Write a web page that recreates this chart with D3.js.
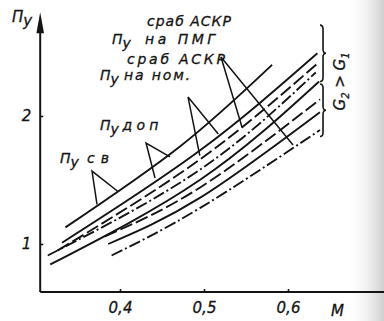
<!DOCTYPE html>
<html>
<head>
<meta charset="utf-8">
<script src="https://cdn.jsdelivr.net/npm/d3@7/dist/d3.min.js"></script>
<style>
  html, body { margin: 0; padding: 0; background: #fff; }
  svg { display: block; }
  text { font-family: "DejaVu Sans", sans-serif; fill: #141414; font-style: italic; stroke: #141414; stroke-width: 0.3; }
</style>
</head>
<body>
<svg id="chart" width="384" height="321"></svg>
<script>
// Overload factor n_y versus Mach number M, two flying weights (G2 > G1)
const M_TICKS = [0.4, 0.5, 0.6];
const NY_TICKS = [1, 2];
const M_TICK_LABELS = ["0,4", "0,5", "0,6"];

// curves: [M, n_y]
const nySv      = [[0.335, 1.13], [0.471, 1.76], [0.581, 2.40]];
const nyG2a     = [[0.331, 1.01], [0.495, 1.73], [0.635, 2.49]];
const nyG2b     = [[0.326, 0.95], [0.495, 1.66], [0.635, 2.41]];
const nyG2c     = [[0.314, 0.91], [0.495, 1.58], [0.633, 2.34]];
const nyG2d     = [[0.317, 0.84], [0.495, 1.50], [0.637, 2.27]];
const nyG1a     = [[0.382, 1.06], [0.495, 1.44], [0.638, 2.13]];
const nyG1b     = [[0.386, 1.00], [0.495, 1.36], [0.638, 2.03]];
const nyG1c     = [[0.390, 0.91], [0.495, 1.28], [0.638, 1.89]];

const curves = [nySv, nyG2a, nyG2b, nyG2c, nyG2d, nyG1a, nyG1b, nyG1c];
const curveDash = ["", "", "13 4", "12 3 2 3", "", "13 4", "", "12 3 2 3"];

// leader lines: [vertex, tipA, tipB] in [M, n_y]
const leaders = [
  [[0.3667, 1.570], [0.3726, 1.31], [0.3976, 1.41]],
  [[0.431, 1.789], [0.4417, 1.516], [0.4595, 1.68]],
  [[0.481, 2.148], [0.495, 1.69], [0.517, 1.86]],
  [[0.5202, 2.461], [0.5452, 1.914], [0.606, 1.773]]
];

// curve labels: [symbol, subscript, words, M of symbol, M of words, n_y baseline, words width px]
const labels = [
  ["", "", "сраб АСКР", 0, 0.4321, 2.70, 84],
  ["П", "у", "на ПМГ", 0.3905, 0.4298, 2.56, 70],
  ["", "", "сраб АСКР", 0, 0.4083, 2.41, 98],
  ["П", "у", "на ном.", 0.3762, 0.4048, 2.28, 66],
  ["П", "у", "доп", 0.3762, 0.4030, 1.89, 36],
  ["П", "у", "св", 0.3286, 0.3607, 1.63, 22]
];

const M0 = 0.305, NY0 = 0.625;      // axes origin
const M_END = 0.7345, NY_END = 2.81; // arrow tips

const svg = d3.select("#chart");
const x = d3.scaleLinear().domain([0.4, 0.6]).range([120, 288]);
const y = d3.scaleLinear().domain([1, 2]).range([244, 116]);

// faint shading toward the right edge
const defs = svg.append("defs");
const grad = defs.append("linearGradient").attr("id", "edge").attr("x1", 0).attr("x2", 1);
grad.append("stop").attr("offset", 0).attr("stop-color", "#fff").attr("stop-opacity", 0);
grad.append("stop").attr("offset", 1).attr("stop-color", "#cfcfcf").attr("stop-opacity", 1);
svg.append("rect").attr("x", 345).attr("y", 0).attr("width", 39).attr("height", 321).attr("fill", "url(#edge)");

const ink = "#141414";

// axis lines with arrowheads
svg.append("line")
  .attr("x1", x(M0)).attr("y1", y(NY0)).attr("x2", x(M0)).attr("y2", y(NY_END) + 12)
  .attr("stroke", ink).attr("stroke-width", 2);
svg.append("line")
  .attr("x1", x(M0)).attr("y1", y(NY0)).attr("x2", x(M_END) - 10).attr("y2", y(NY0))
  .attr("stroke", ink).attr("stroke-width", 2);
const ax = x(M0), ay = y(NY_END);
svg.append("path").attr("d", `M${ax},${ay} L${ax - 3.8},${ay + 21} L${ax + 3.8},${ay + 21} Z`).attr("fill", ink);
const bx = x(M_END), by = y(NY0);
svg.append("path").attr("d", `M${bx},${by} L${bx - 16},${by - 4} L${bx - 16},${by + 4} Z`).attr("fill", ink);

// ticks
const xAxis = d3.axisBottom(x).tickValues(M_TICKS).tickSize(-3).tickPadding(10)
  .tickFormat((d, i) => M_TICK_LABELS[i]);
const gx = svg.append("g").attr("transform", `translate(0,${y(NY0)})`).call(xAxis);
const yAxis = d3.axisLeft(y).tickValues(NY_TICKS).tickSize(-3).tickPadding(9).tickFormat(d3.format("d"));
const gy = svg.append("g").attr("transform", `translate(${x(M0)},0)`).call(yAxis);
[gx, gy].forEach(g => {
  g.select(".domain").remove();
  g.selectAll(".tick line").attr("stroke", ink).attr("stroke-width", 1.6);
  g.selectAll(".tick text").attr("font-size", 15).attr("fill", ink)
    .style("font-family", "'DejaVu Sans', sans-serif");
});

// axis titles
const yTitle = svg.append("text").attr("x", 12).attr("y", 22).attr("font-size", 15);
yTitle.append("tspan").text("П");
yTitle.append("tspan").attr("dy", 4).text("у");
svg.append("text").attr("x", 331).attr("y", 316).attr("font-size", 15).text("M");

// curves
const line = d3.line().x(d => x(d[0])).y(d => y(d[1])).curve(d3.curveNatural);
svg.append("g").selectAll("path").data(curves).join("path")
  .attr("d", line)
  .attr("fill", "none")
  .attr("stroke", ink)
  .attr("stroke-width", 1.9)
  .attr("stroke-dasharray", (d, i) => curveDash[i] || null);

// leader lines
svg.append("g").selectAll("path").data(leaders).join("path")
  .attr("d", d => `M${x(d[1][0])},${y(d[1][1])} L${x(d[0][0])},${y(d[0][1])} L${x(d[2][0])},${y(d[2][1])}`)
  .attr("fill", "none").attr("stroke", ink).attr("stroke-width", 1.5);

// labels
labels.forEach(([sym, sub, words, ms, mw, n, w]) => {
  if (sym) {
    const s = svg.append("text").attr("x", x(ms)).attr("y", y(n)).attr("font-size", 14);
    s.append("tspan").text(sym);
    s.append("tspan").attr("dy", 4).text(sub);
  }
  svg.append("text").attr("x", x(mw)).attr("y", y(n)).attr("font-size", 14)
    .attr("textLength", w).attr("lengthAdjust", "spacing").text(words);
});

// braces grouping the curve ends by weight
const braceX = x(0.6417);
function brace(n0, n1) {
  const y0 = y(n0), y1 = y(n1), ym = (y0 + y1) / 2;
  return `M${braceX - 3},${y0} Q${braceX},${y0} ${braceX},${y0 + 4} L${braceX},${ym - 4} ` +
         `Q${braceX},${ym} ${braceX + 3},${ym} Q${braceX},${ym} ${braceX},${ym + 4} ` +
         `L${braceX},${y1 - 4} Q${braceX},${y1} ${braceX - 3},${y1}`;
}
svg.append("path").attr("d", brace(2.71, 2.27)).attr("fill", "none").attr("stroke", ink).attr("stroke-width", 1.6);
svg.append("path").attr("d", brace(2.25, 1.84)).attr("fill", "none").attr("stroke", ink).attr("stroke-width", 1.6);

const gt = svg.append("text")
  .attr("transform", `translate(${braceX + 22},${y(2.27)}) rotate(-90)`)
  .attr("text-anchor", "middle").attr("font-size", 15);
gt.append("tspan").text("G");
gt.append("tspan").attr("dy", 4).attr("font-size", 10).text("2");
gt.append("tspan").attr("dy", -4).text(" > G");
gt.append("tspan").attr("dy", 4).attr("font-size", 10).text("1");
</script>
</body>
</html>
